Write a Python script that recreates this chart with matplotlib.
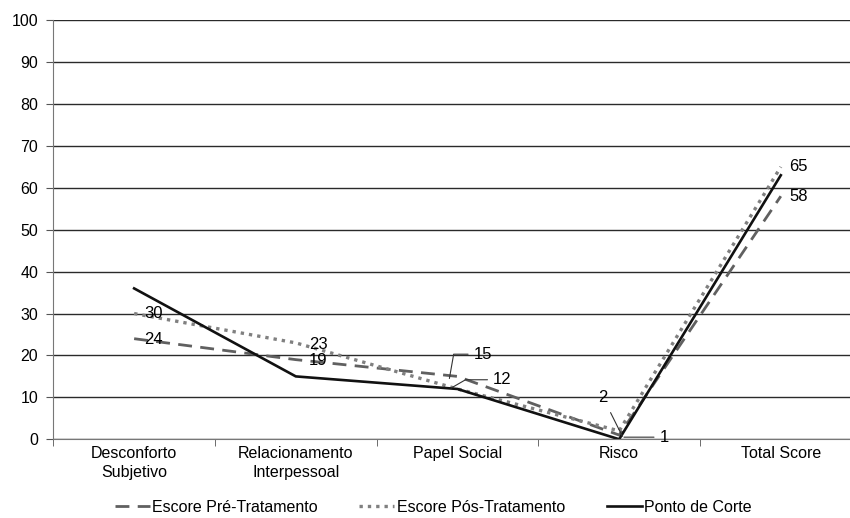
import numpy as np
import matplotlib.pyplot as plt

plt.rcParams['font.family'] = ['Liberation Sans', 'DejaVu Sans']

categories = ['Desconforto\nSubjetivo', 'Relacionamento\nInterpessoal', 'Papel Social', 'Risco', 'Total Score']
pre = [24, 19, 15, 1, 58]
pos = [30, 23, 12, 2, 65]
corte = [36, 15, 12, 0, 63]
y_ticks = list(range(0, 101, 10))

fig = plt.figure(figsize=(8.5, 5.18), dpi=100)
# plot area runs a bit past the right edge, like the original export
ax = fig.add_axes([0.0627, 0.152, 0.951, 0.809])

x = np.arange(len(categories))
ax.plot(x, pre, color='#606060', linestyle=(0, (5, 3)), linewidth=2.0, label='Escore Pré-Tratamento')
ax.plot(x, pos, color='#808080', linestyle=(0, (1, 1.5)), linewidth=2.4, label='Escore Pós-Tratamento')
ax.plot(x, corte, color='#111111', linestyle='-', linewidth=1.9, label='Ponto de Corte')

ax.set_xlim(-0.5, len(categories) - 0.5)
ax.set_ylim(0, 100)
ax.set_yticks(y_ticks)
ax.set_xticks(x)
ax.set_xticklabels(categories, fontsize=11.5, linespacing=1.3)
ax.set_xticks(np.arange(-0.5, len(categories), 1.0), minor=True)
ax.tick_params(axis='x', which='major', length=0, pad=5)
ax.tick_params(axis='x', which='minor', length=5, color='#555555')
ax.tick_params(axis='y', length=5, color='#555555', labelsize=11.5, pad=6)
ax.grid(axis='y', color='#2a2a2a', linewidth=1.0)
ax.set_axisbelow(True)
for s in ['top', 'right']:
    ax.spines[s].set_visible(False)
ax.spines['left'].set_color('#777777')
ax.spines['bottom'].set_color('#777777')

# data labels
fs = 12
lc = '#333333'
ax.text(x[0] + 0.06, pos[0], str(pos[0]), fontsize=fs, va='center')
ax.text(x[0] + 0.06, pre[0] - 0.3, str(pre[0]), fontsize=fs, va='center')
ax.text(x[1] + 0.08, pos[1] - 0.3, str(pos[1]), fontsize=fs, va='center')
ax.text(x[1] + 0.08, pre[1] - 0.1, str(pre[1]), fontsize=fs, va='center')
ax.annotate(str(pre[2]), xy=(x[2] - 0.05, pre[2] - 0.5), xytext=(x[2] + 0.1, pre[2] + 5.3),
            fontsize=fs, va='center',
            arrowprops=dict(arrowstyle='-', color=lc, lw=0.8, shrinkA=2, shrinkB=0,
                            connectionstyle='angle,angleA=180,angleB=80,rad=0'))
ax.annotate(str(pos[2]), xy=(x[2] - 0.04, pos[2] + 0.2), xytext=(x[2] + 0.22, pos[2] + 2.2),
            fontsize=fs, va='center',
            arrowprops=dict(arrowstyle='-', color=lc, lw=0.8, shrinkA=2, shrinkB=0,
                            connectionstyle='angle,angleA=180,angleB=30,rad=0'))
ax.annotate(str(pos[3]), xy=(x[3] + 0.02, pos[3] - 1.3), xytext=(x[3] - 0.1, pos[3] + 8),
            fontsize=fs, va='center', ha='center',
            arrowprops=dict(arrowstyle='-', color=lc, lw=0.8, shrinkA=4, shrinkB=0))
ax.annotate(str(pre[3]), xy=(x[3] + 0.03, pre[3] - 0.5), xytext=(x[3] + 0.25, pre[3] - 0.5),
            fontsize=fs, va='center',
            arrowprops=dict(arrowstyle='-', color=lc, lw=0.8, shrinkA=2, shrinkB=0))
ax.text(x[4] + 0.05, pos[4], str(pos[4]), fontsize=fs, va='center')
ax.text(x[4] + 0.05, pre[4], str(pre[4]), fontsize=fs, va='center')

ax.legend(loc='center', bbox_to_anchor=(0.47, -0.163), ncol=3, frameon=False,
          fontsize=11.5, handlelength=2.2, handletextpad=0.15, columnspacing=2.6,
          borderpad=0.1)

plt.savefig('out.png', dpi=100)
plt.close(fig)
